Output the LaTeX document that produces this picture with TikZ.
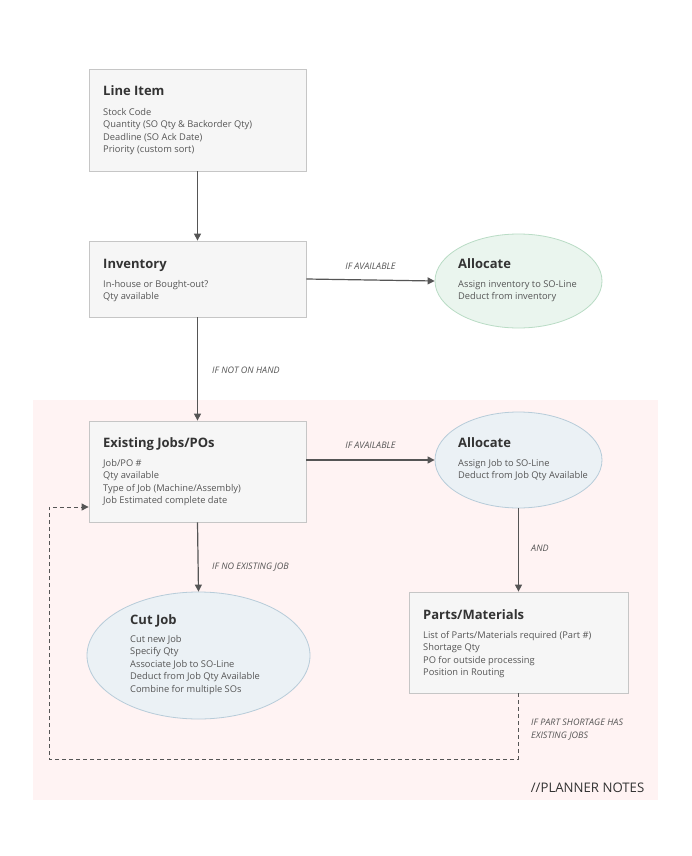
\documentclass[tikz,border=0pt]{standalone}
\usepackage{fontspec}
\setmainfont{Open Sans}
\usetikzlibrary{arrows.meta,shapes.geometric}
\definecolor{boxfill}{HTML}{F6F6F6}
\definecolor{boxline}{HTML}{C6C6C6}
\definecolor{greenfill}{HTML}{EAF5EE}
\definecolor{greenline}{HTML}{B9DCC5}
\definecolor{bluefill}{HTML}{EBF1F5}
\definecolor{blueline}{HTML}{B7CCD9}
\definecolor{pinkbg}{HTML}{FFF3F3}
\definecolor{titlecol}{HTML}{333333}
\definecolor{bodycol}{HTML}{555555}
\definecolor{labelcol}{HTML}{555555}
\definecolor{arrowcol}{HTML}{555555}
\tikzset{
  x=1pt, y=-1pt,
  boxshape/.style={draw=boxline, fill=boxfill, line width=0.8pt, rectangle, inner sep=0pt},
  greenell/.style={draw=greenline, fill=greenfill, line width=0.8pt, ellipse, inner sep=0pt},
  blueell/.style={draw=blueline, fill=bluefill, line width=0.8pt, ellipse, inner sep=0pt},
  titletext/.style={anchor=base west, inner sep=0pt, text=titlecol, font=\fontsize{13}{15}\selectfont\bfseries},
  bodytext/.style={anchor=base west, inner sep=0pt, text=bodycol, font=\fontsize{9.3}{11}\selectfont},
  lbl/.style={inner sep=0pt, text=labelcol, font=\fontsize{9}{11}\selectfont\itshape},
  flow/.style={draw=arrowcol, line width=1.2pt, -{Triangle[length=7pt,width=7pt]}},
  dashflow/.style={draw=arrowcol, line width=0.9pt, dash pattern=on 4pt off 3pt, -{Triangle[length=7pt,width=7pt]}},
}
\begin{document}
\begin{tikzpicture}
\useasboundingbox (0,0) rectangle (692,856);
\fill[white] (0,0) rectangle (692,856);
% planner notes background
\fill[pinkbg] (32.5,400) rectangle (658,800);
\node[anchor=base east, inner sep=0pt, text=titlecol, font=\fontsize{13.2}{15}\selectfont] (pn) at (644.5,792.5) {//PLANNER NOTES};

% shapes
\node[boxshape, minimum width=217pt, minimum height=102pt] (li) at (197.5,120) {};
\node[boxshape, minimum width=217pt, minimum height=76pt] (inv) at (197.5,279) {};
\node[greenell, minimum width=167pt, minimum height=94pt] (al1) at (518.5,281) {};
\node[boxshape, minimum width=217pt, minimum height=101pt] (ex) at (197.5,471.5) {};
\node[blueell, minimum width=167pt, minimum height=96pt] (al2) at (518.5,460) {};
\node[boxshape, minimum width=219pt, minimum height=101pt] (pm) at (518.5,642.5) {};
\node[blueell, minimum width=223pt, minimum height=127pt] (cj) at (198.5,655.5) {};

% texts: Line Item
\node[titletext] (li-t) at (103,95.6) {Line Item};
\node[bodytext] (li-1) at (103,115.5) {Stock Code};
\node[bodytext] (li-2) at (103,127.9) {Quantity (SO Qty \& Backorder Qty)};
\node[bodytext] (li-3) at (103,140.3) {Deadline (SO Ack Date)};
\node[bodytext] (li-4) at (103,152.7) {Priority (custom sort)};
% Inventory
\node[titletext] (inv-t) at (103,268.5) {Inventory};
\node[bodytext] (inv-1) at (103,287.5) {In-house or Bought-out?};
\node[bodytext] (inv-2) at (103,299.9) {Qty available};
% Allocate 1
\node[titletext] (al1-t) at (458,268.5) {Allocate};
\node[bodytext] (al1-1) at (458,287.5) {Assign inventory to SO-Line};
\node[bodytext] (al1-2) at (458,299.9) {Deduct from inventory};
% Existing
\node[titletext] (ex-t) at (103,447.5) {Existing Jobs/POs};
\node[bodytext] (ex-1) at (103,466.5) {Job/PO \#};
\node[bodytext] (ex-2) at (103,478.9) {Qty available};
\node[bodytext] (ex-3) at (103,491.3) {Type of Job (Machine/Assembly)};
\node[bodytext] (ex-4) at (103,503.7) {Job Estimated complete date};
% Allocate 2
\node[titletext] (al2-t) at (458,447.5) {Allocate};
\node[bodytext] (al2-1) at (458,466.5) {Assign Job to SO-Line};
\node[bodytext] (al2-2) at (458,478.9) {Deduct from Job Qty Available};
% Parts
\node[titletext] (pm-t) at (423,619.5) {Parts/Materials};
\node[bodytext] (pm-1) at (423,638.5) {List of Parts/Materials required (Part \#)};
\node[bodytext] (pm-2) at (423,650.9) {Shortage Qty};
\node[bodytext] (pm-3) at (423,663.3) {PO for outside processing};
\node[bodytext] (pm-4) at (423,675.7) {Position in Routing};
% Cut Job
\node[titletext] (cj-t) at (130,624.5) {Cut Job};
\node[bodytext] (cj-1) at (130,642.5) {Cut new Job};
\node[bodytext] (cj-2) at (130,654.9) {Specify Qty};
\node[bodytext] (cj-3) at (130,667.3) {Associate Job to SO-Line};
\node[bodytext] (cj-4) at (130,679.7) {Deduct from Job Qty Available};
\node[bodytext] (cj-5) at (130,692.1) {Combine for multiple SOs};

% connectors
\draw[flow] (li.south) -- (inv.north);
\draw[flow] (inv.east) -- (al1.west);
\draw[flow] (inv.south) -- (ex.north);
\draw[flow] (ex.east |- al2.west) -- (al2.west);
\draw[flow] (ex.south) -- (cj.north);
\draw[flow] (al2.south) -- (pm.north);
\coordinate (d1) at (518.5,759);
\coordinate (d2) at (49,759);
\coordinate (d3) at (49,507);
\draw[dashflow] (pm.south) -- (d1) -- (d2) -- (d3) -- (ex.west |- d3);

% connector labels
\node[lbl, anchor=base] (l1) at (370.5,269) {IF AVAILABLE};
\node[lbl, anchor=base west] (l2) at (212,373) {IF NOT ON HAND};
\node[lbl, anchor=base] (l3) at (370.5,448.3) {IF AVAILABLE};
\node[lbl, anchor=base west] (l4) at (212,569) {IF NO EXISTING JOB};
\node[lbl, anchor=base west] (l5) at (531,551) {AND};
\node[lbl, anchor=base west] (l6) at (531,725) {IF PART SHORTAGE HAS};
\node[lbl, anchor=base west] (l7) at (531,738) {EXISTING JOBS};
\end{tikzpicture}
\end{document}
